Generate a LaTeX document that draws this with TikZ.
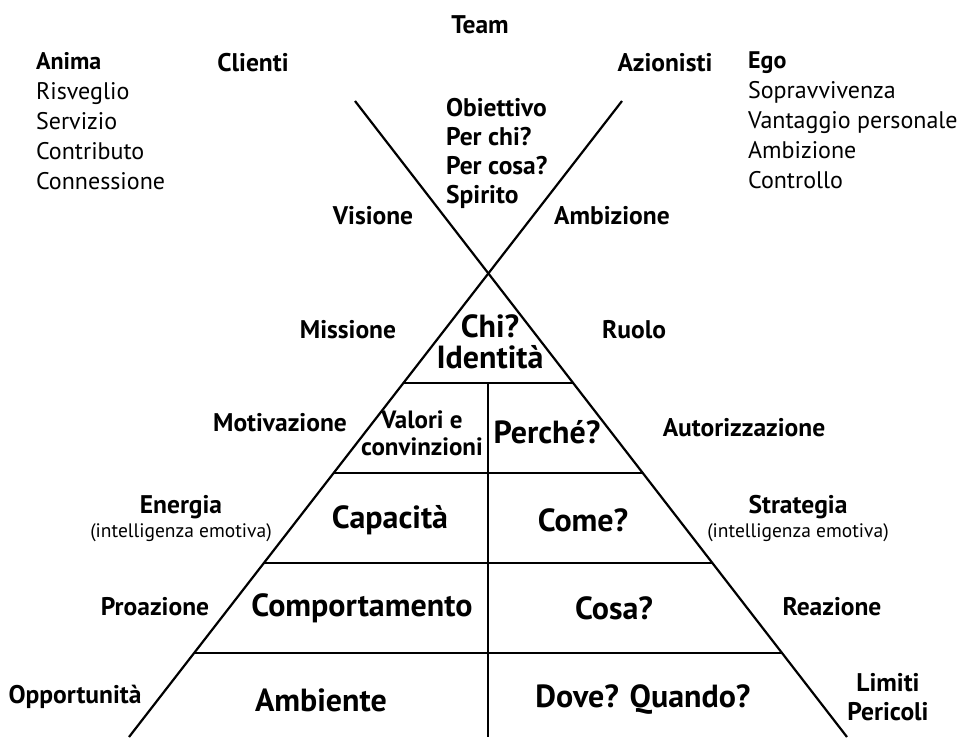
\documentclass[tikz,border=0pt]{standalone}
\usepackage{fontspec}
\setmainfont{PT Sans}

\begin{document}
\begin{tikzpicture}[x=1pt,y=-1pt,line width=2.2pt,
	lbl/.style={font=\bfseries\fontsize{25.5}{29}\selectfont, inner sep=0pt, align=center},
	big/.style={font=\bfseries\fontsize{32}{31}\selectfont, inner sep=0pt, align=center},
	note/.style={font=\fontsize{19.5}{22}\selectfont, inner sep=0pt},
	list/.style={font=\fontsize{24}{30}\selectfont, inner sep=0pt, align=left, anchor=north west}]
		\useasboundingbox (0,0) rectangle (960,737);
		% the X and the pyramid
		\coordinate (apex) at (488,273);
		\coordinate (tl) at (355,101);
		\coordinate (tr) at (622,101);
		\coordinate (bl) at (129,737);
		\coordinate (br) at (847,737);
		\coordinate (mid) at (488,383);
		\coordinate (base) at (488,737);
		\draw (tl) -- (br);
		\draw (tr) -- (bl);
		\foreach \y in {383,473,563,653}
			\draw (intersection of apex--bl and 0,\y--10,\y) -- (intersection of apex--br and 0,\y--10,\y);
		\draw (mid) -- (base);
		% top
		\node [lbl] (team) at (480,25) {Team};
		\node [lbl] (clienti) at (253,63) {Clienti};
		\node [lbl] (azionisti) at (665,63) {Azionisti};
		\node [list] (anima) at (35,51) {\textbf{Anima}\\Risveglio\\Servizio\\Contributo\\Connessione};
		\node [list] (ego) at (747,51) {\textbf{Ego}\\Sopravvivenza\\Vantaggio personale\\Ambizione\\Controllo};
		\node [lbl, align=left, anchor=north west] (obiettivo) at (445,97) {Obiettivo\\Per chi?\\Per cosa?\\Spirito};
		\node [lbl] (visione) at (373,216) {Visione};
		\node [lbl] (ambizione) at (612,216) {Ambizione};
		% pyramid levels
		\node [lbl] (missione) at (348,330) {Missione};
		\node [big] (chi) at (490,342) {Chi?\\Identità};
		\node [lbl] (ruolo) at (634,330) {Ruolo};
		\node [lbl] (motivazione) at (280,423) {Motivazione};
		\node [lbl, font=\bfseries\fontsize{25}{27}\selectfont] (valori) at (422,433) {Valori e\\convinzioni};
		\node [big] (perche) at (547,432) {Perché?};
		\node [lbl] (autorizzazione) at (744,428) {Autorizzazione};
		\node [lbl] (energia) at (181,507) {Energia};
		\node [note] (energianote) at (181,533) {(intelligenza emotiva)};
		\node [big] (capacita) at (390,520) {Capacità};
		\node [big] (come) at (583,520) {Come?};
		\node [lbl] (strategia) at (798,507) {Strategia};
		\node [note] (strategianote) at (798,533) {(intelligenza emotiva)};
		\node [lbl] (proazione) at (155,607) {Proazione};
		\node [big] (comportamento) at (362,608) {Comportamento};
		\node [big] (cosa) at (614,608) {Cosa?};
		\node [lbl] (reazione) at (832,607) {Reazione};
		\node [lbl] (opportunita) at (75,697) {Opportunità};
		\node [big] (ambiente) at (321,700) {Ambiente};
		\node [big] (dove) at (643,700) {Dove? Quando?};
		\node [lbl] (limiti) at (888,697) {Limiti\\Pericoli};
	\end{tikzpicture}
\end{document}
